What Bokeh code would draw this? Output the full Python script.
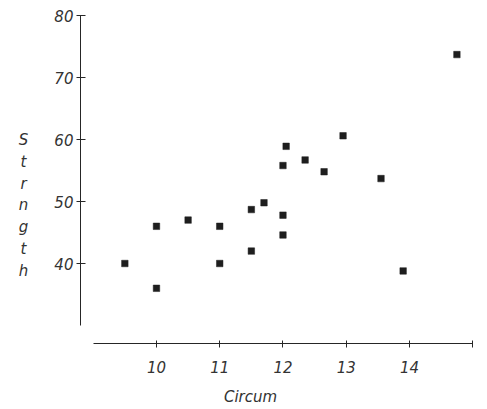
from bokeh.plotting import figure
from bokeh.models import Range1d, FixedTicker, Label
from bokeh.embed import file_html
from bokeh.resources import INLINE

# Data
circum = [9.5, 10.0, 10.0, 10.5, 11.0, 11.0, 11.5, 11.5, 11.7, 12.0,
          12.0, 12.0, 12.05, 12.35, 12.65, 12.95, 13.55, 13.9, 14.75]
strength = [40.0, 36.0, 46.0, 47.0, 46.0, 40.0, 42.0, 48.7, 49.8, 47.8,
            44.6, 55.8, 58.9, 56.7, 54.8, 60.6, 53.7, 38.8, 73.7]

x_ticks = [10, 11, 12, 13, 14, 15]
x_tick_labels = {15: ""}
y_ticks = [40, 50, 60, 70, 80]
x_title = "Circum"
y_title = "Strngth"

FONT = "DejaVu Sans"
INK = "#262626"
W, H = 487, 409

p = figure(width=W, height=H, min_border=0,
           x_range=Range1d(7.534, 7.534 + W / 63.25),
           y_range=Range1d(82.42 - H / 6.2, 82.42),
           output_backend="svg", toolbar_location=None, tools="")

p.outline_line_color = None
p.grid.visible = False
p.background_fill_color = "white"
p.border_fill_color = "white"

p.scatter(circum, strength, marker="square", size=6.5,
          fill_color="#1e1e1e", line_color="#1e1e1e", line_width=0.5)

xa = p.xaxis[0]
xa.fixed_location = 27.1
xa.ticker = FixedTicker(ticks=x_ticks)
xa.major_label_overrides = x_tick_labels
xa.bounds = (9, 15)
xa.minor_tick_line_color = None
xa.major_tick_in = 3
xa.major_tick_out = 4
xa.major_label_standoff = 14
xa.axis_line_color = INK
xa.major_tick_line_color = INK
xa.major_label_text_font = FONT
xa.major_label_text_font_style = "italic"
xa.major_label_text_font_size = "15px"
xa.major_label_text_color = "#333333"

ya = p.yaxis[0]
ya.fixed_location = 8.798
ya.ticker = FixedTicker(ticks=y_ticks)
ya.bounds = (30, 80)
ya.minor_tick_line_color = None
ya.major_tick_in = 5
ya.major_tick_out = 4
ya.major_label_standoff = 3
ya.axis_line_color = INK
ya.major_tick_line_color = INK
ya.major_label_text_font = FONT
ya.major_label_text_font_style = "italic"
ya.major_label_text_font_size = "15px"
ya.major_label_text_color = "#333333"

p.add_layout(Label(x=250, y=13, x_units="screen", y_units="screen", text=x_title,
                   text_align="center", text_baseline="middle",
                   text_font=FONT, text_font_style="italic", text_font_size="15px",
                   text_color="#333333"))

p.add_layout(Label(x=23, y=204, x_units="screen", y_units="screen", text="\n".join(y_title),
                   text_align="center", text_baseline="middle", text_line_height=1.22,
                   text_font=FONT, text_font_style="italic", text_font_size="15px",
                   text_color="#333333"))

open("out.html", "w").write(file_html(p, INLINE))
